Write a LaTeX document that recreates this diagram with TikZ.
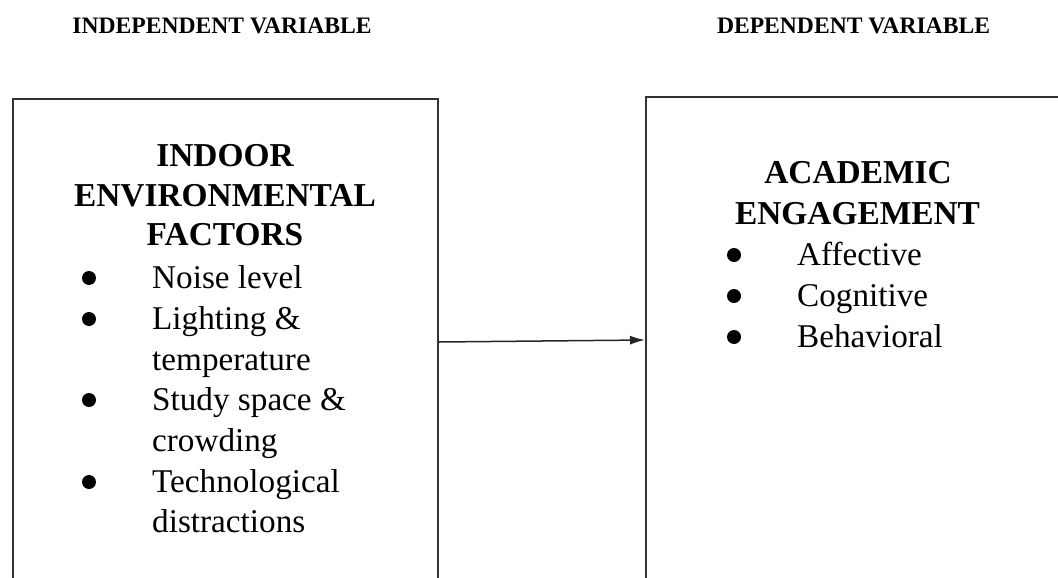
\documentclass[tikz,border=0pt]{standalone}
\usepackage{fontspec}
\setmainfont{Liberation Serif}
\usetikzlibrary{arrows.meta}
\begin{document}
\begin{tikzpicture}[x=1pt,y=-1pt,
  frame/.style={draw=black!80,line width=2pt,rectangle,inner sep=0pt,anchor=north west},
  head/.style={font=\fontsize{23.6}{28}\selectfont\bfseries,anchor=base,inner sep=0pt},
  ttl/.style={font=\fontsize{33.4}{40}\selectfont\bfseries,anchor=base,inner sep=0pt},
  itm/.style={font=\fontsize{33.2}{40}\selectfont,anchor=base west,inner sep=0pt},
  dot/.style={circle,fill=black,inner sep=0pt,minimum size=14pt},
  conn/.style={line width=1.5pt,draw=black!85,-{Latex[length=15pt,width=9pt]}}]
\useasboundingbox (0,0) rectangle (1058,578);
\clip (0,0) rectangle (1058,578);
\fill[white] (0,0) rectangle (1058,578);
% headers
\node[head] (h1) at (222,34) {INDEPENDENT VARIABLE};
\node[head] (h2) at (853.5,34) {DEPENDENT VARIABLE};
% boxes
\node[frame,minimum width=425pt,minimum height=520pt] (L) at (12,98) {};
\node[frame,minimum width=440pt,minimum height=520pt] (R) at (645,96) {};
% left title
\node[ttl] (lt1) at (225,166) {INDOOR};
\node[ttl] (lt2) at (225,206) {ENVIRONMENTAL};
\node[ttl] (lt3) at (225,245) {FACTORS};
% left items
\node[itm] (l1) at (152,288) {Noise level};
\node[itm] (l2) at (152,329) {Lighting \&};
\node[itm] (l3) at (152,370) {temperature};
\node[itm] (l4) at (152,410) {Study space \&};
\node[itm] (l5) at (152,451) {crowding};
\node[itm] (l6) at (152,492) {Technological};
\node[itm] (l7) at (152,532) {distractions};
\node[dot] (b1) at (89,278) {};
\node[dot] (b2) at (89,319) {};
\node[dot] (b3) at (89,400) {};
\node[dot] (b4) at (89,482) {};
% right title
\node[ttl] (rt1) at (858,183) {ACADEMIC};
\node[ttl] (rt2) at (857.5,224) {ENGAGEMENT};
% right items
\node[itm] (r1) at (797,265) {Affective};
\node[itm] (r2) at (797,306) {Cognitive};
\node[itm] (r3) at (797,347) {Behavioral};
\node[dot] (c1) at (734,255) {};
\node[dot] (c2) at (734,296) {};
\node[dot] (c3) at (734,337) {};
% connector
\draw[conn] ([yshift=-244pt]L.north east) -- ([yshift=-244pt]R.north west);
\end{tikzpicture}
\end{document}
